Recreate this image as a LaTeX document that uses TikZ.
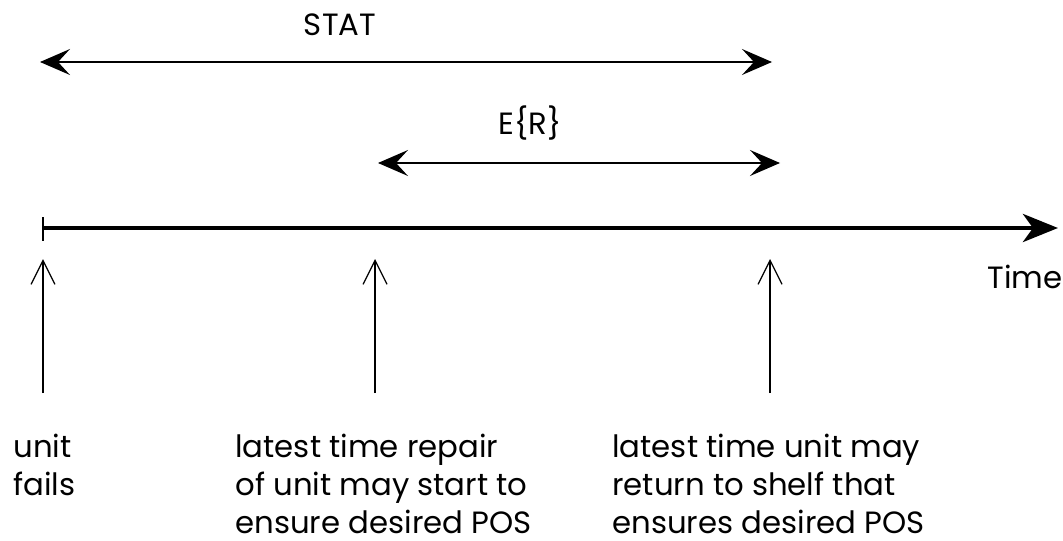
\documentclass[tikz,border=0pt]{standalone}
\usepackage{fontspec}
\setmainfont{Poppins}
\usetikzlibrary{arrows.meta,positioning}

\tikzset{
  span/.style={{Stealth[length=0.6cm,width=0.52cm,inset=0.24cm]}-{Stealth[length=0.6cm,width=0.52cm,inset=0.24cm]}, line width=0.7pt},
  timeline/.style={-{Stealth[length=0.7cm,width=0.56cm,inset=0.2cm]}, line width=2.8pt},
  marker/.style={-{Straight Barb[length=0.48cm,width=0.48cm]}, line width=0.7pt},
  lbl/.style={font=\fontsize{17.5}{21.5}\selectfont, inner sep=0pt},
  note/.style={lbl, align=left, anchor=base west}
}

\begin{document}
\begin{tikzpicture}[x=0.02cm,y=-0.02cm]
\useasboundingbox (0,0) rectangle (1063,541);

% time axis
\coordinate (t0) at (43,228);
\coordinate (tend) at (1058,228);
\draw[timeline] (t0) -- (tend);
\draw[line width=0.8pt] (43,217) -- (43,241);
\node[lbl, anchor=base] (time) at (1025,288) {Time};

% intervals above the axis
\coordinate (statL) at (40,62);
\coordinate (statR) at (772,62);
\draw[span] (statL) -- (statR);
\node[lbl, anchor=base] (stat) at (340,35) {STAT};

\coordinate (erL) at (378,163);
\coordinate (erR) at (780,163);
\draw[span] (erL) -- (erR);
\node[lbl, anchor=base] (er) at (530,134) {E\{R\}};

% events below the axis
\coordinate (failA) at (43,393);
\coordinate (failB) at (43,259);
\coordinate (repA) at (375,393);
\coordinate (repB) at (375,259);
\coordinate (shelfA) at (770,393);
\coordinate (shelfB) at (770,259);
\draw[marker] (failA) -- (failB);
\draw[marker] (repA) -- (repB);
\draw[marker] (shelfA) -- (shelfB);

% base west of a multi-line note sits on its last line
\node[note] (fail) at (13,495) {unit\\fails};
\node[note] (rep) at (235,533) {latest time repair\\of unit may start to\\ensure desired POS};
\node[note] (shelf) at (612,533) {latest time unit may\\return to shelf that\\ensures desired POS};
\end{tikzpicture}
\end{document}
